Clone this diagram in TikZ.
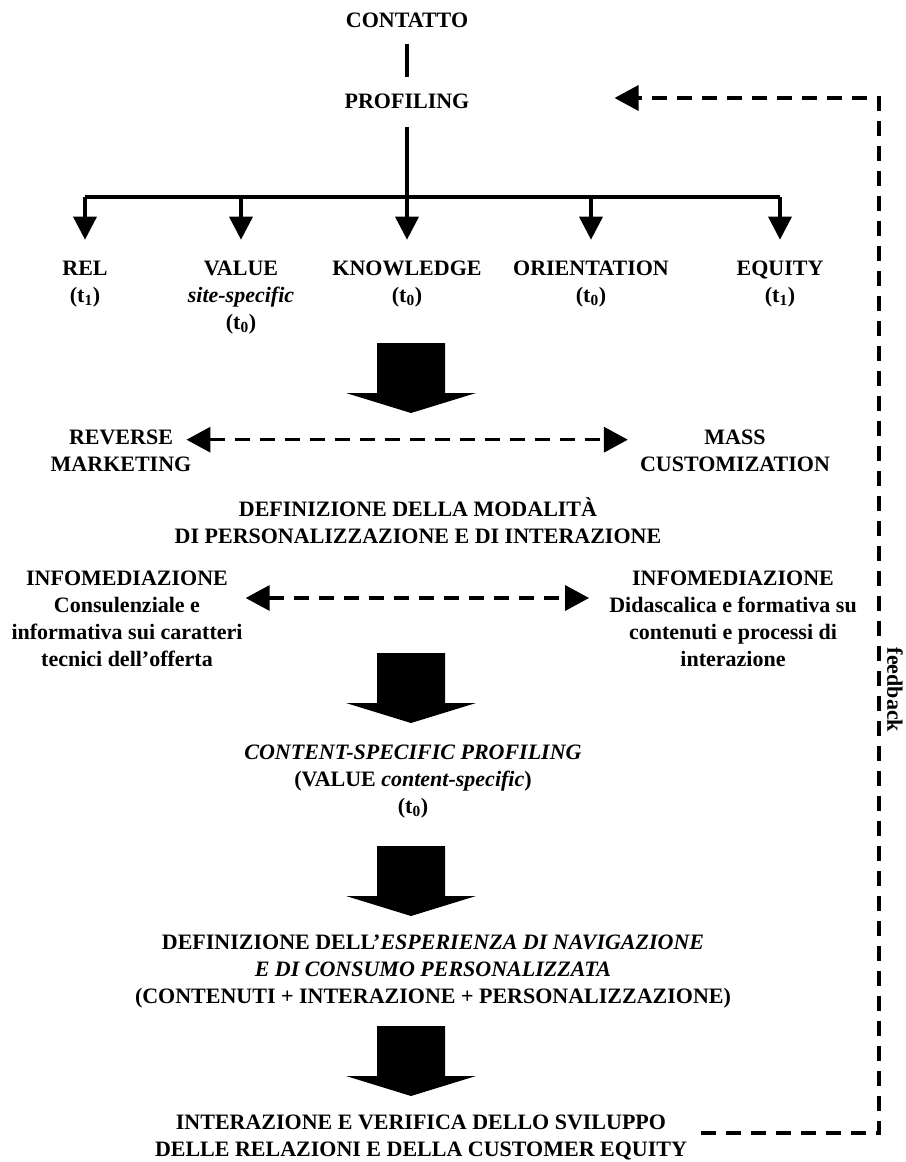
\documentclass[tikz,border=0pt]{standalone}
\usepackage{fontspec}
\setmainfont{Liberation Serif}
\usepackage{tikz}
\usetikzlibrary{arrows.meta}

\begin{document}
\begin{tikzpicture}[x=1pt,y=-1pt,
  lbl/.style={font=\fontsize{22}{27}\selectfont\bfseries,align=center,anchor=north,inner sep=2pt},
  solidline/.style={line width=3.5pt},
  treearrow/.style={line width=3.5pt,-{Triangle[length=23pt,width=23pt]}},
  dashline/.style={line width=3.5pt,dash pattern=on 15pt off 10pt},
  dashtip/.style={dashline,-{Triangle[length=24pt,width=25pt]}},
  dashboth/.style={dashline,{Triangle[length=24pt,width=25pt]}-{Triangle[length=24pt,width=25pt]}}]
\useasboundingbox (0,0) rectangle (905,1162);
% top of the tree
\node[lbl] (contatto) at (407,10.7) {CONTATTO};
\node[lbl] (profiling) at (407,91.7) {PROFILING};
\coordinate (bar) at (407,197);
\node[lbl] (rel) at (85,258.7) {REL\\(t\textsubscript{1})};
\node[lbl] (value) at (241,258.7) {VALUE\\\textit{site-specific}\\(t\textsubscript{0})};
\node[lbl] (knowledge) at (407,258.7) {KNOWLEDGE\\(t\textsubscript{0})};
\node[lbl] (orientation) at (591,258.7) {ORIENTATION\\(t\textsubscript{0})};
\node[lbl] (equity) at (780,258.7) {EQUITY\\(t\textsubscript{1})};
\draw[solidline,shorten <=13.7pt,shorten >=15pt] (contatto) -- (profiling);
\draw[solidline,shorten <=15.7pt] (profiling.south) -- (bar);
\draw[solidline] (rel |- bar) -- (equity |- bar);
\foreach \n in {rel,value,knowledge,orientation,equity}
  \draw[treearrow,shorten >=19pt] (\n |- bar) -- (\n.north);
% middle part
\node[lbl] (reverse) at (121,427.7) {REVERSE\\MARKETING};
\node[lbl] (mass) at (735,427.7) {MASS\\CUSTOMIZATION};
\draw[dashboth] ([xshift=-7pt,yshift=-12pt]reverse.north east) -- ([xshift=-10pt,yshift=-12pt]mass.north west);
\node[lbl] (modalita) at (418,495.7) {DEFINIZIONE DELLA MODALITÀ\\DI PERSONALIZZAZIONE E DI INTERAZIONE};
\node[lbl] (infoL) at (127,568.7) {INFOMEDIAZIONE\\Consulenziale e\\informativa sui caratteri\\tecnici dell’offerta};
\node[lbl] (infoR) at (733,568.7) {INFOMEDIAZIONE\\Didascalica e formativa su\\contenuti e processi di\\interazione};
\draw[dashboth] ([xshift=1pt,yshift=-29.3pt]infoL.north east) -- ([xshift=-18pt,yshift=-29.3pt]infoR.north west);
\node[lbl] (content) at (413,742.7) {\textit{CONTENT-SPECIFIC PROFILING}\\(VALUE \textit{content-specific})\\(t\textsubscript{0})};
\node[lbl] (esperienza) at (433,932.7) {DEFINIZIONE DELL’\textit{ESPERIENZA DI NAVIGAZIONE}\\\textit{E DI CONSUMO PERSONALIZZATA}\\(CONTENUTI + INTERAZIONE + PERSONALIZZAZIONE)};
\node[lbl] (interazione) at (421,1112.7) {INTERAZIONE E VERIFICA DELLO SVILUPPO\\DELLE RELAZIONI E DELLA CUSTOMER EQUITY};
% big arrows
\foreach \t in {343,653,846,1026}
  \fill (411,\t) ++(-34,0) -- ++(68,0) -- ++(0,50) -- ++(31,0) -- ++(-65,20) -- ++(-65,-20) -- ++(31,0) -- cycle;
% feedback loop
\coordinate (fbcorner) at (879,98);
\node[lbl,anchor=center,rotate=-90] (fblabel) at (895,690) {feedback};
\draw[dashtip] ([xshift=12pt,yshift=-20.3pt]interazione.north east) -| (fbcorner) -- ([xshift=143pt,yshift=-6.3pt]profiling.north east);
\end{tikzpicture}
\end{document}
